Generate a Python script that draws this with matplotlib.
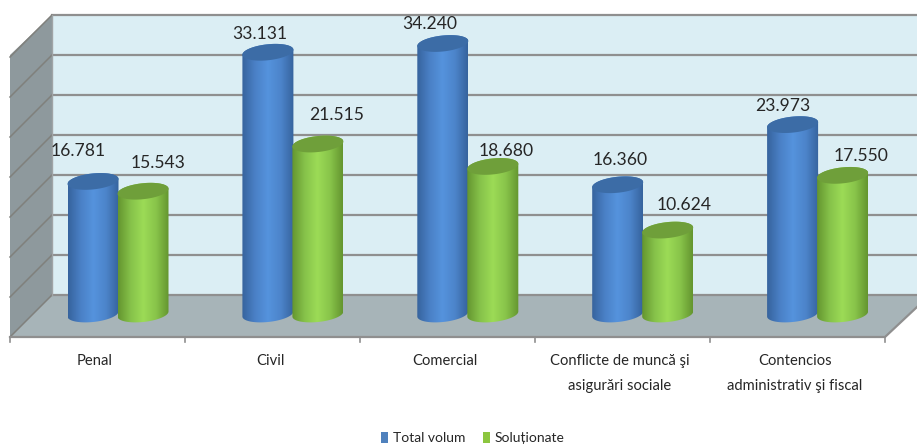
import numpy as np
import matplotlib
matplotlib.use("Agg")
import matplotlib.pyplot as plt
from matplotlib.colors import LinearSegmentedColormap
from matplotlib.patches import Polygon, Patch

plt.rcParams['font.family'] = ['Lato', 'DejaVu Sans']

categories = ["Penal", "Civil", "Comercial",
              "Conflicte de muncă şi\nasigurări sociale",
              "Contencios\nadministrativ şi fiscal"]
total_volum = [16781, 33131, 34240, 16360, 23973]
solutionate = [15543, 21515, 18680, 10624, 17550]
grid_values = [0, 5000, 10000, 15000, 20000, 25000, 30000, 35000]

# label offsets from the bar top, in pixels (the original is hand placed)
total_offsets = [(-15, 30), (-8, 18), (-13, 20), (2, 25), (-10, 19)]
solved_offsets = [(15, 28), (19, 29), (13, 15), (16, 25), (18, 19)]

W, H = 917, 448
CAT_PX = 174.9    # pixels per category
X0_PX = 118       # centre of the first group
Y0_PX = 314       # bar base
VAL_PX = 0.0079   # pixels per unit of value
BAR_W = 51 / CAT_PX
OFFSET = 50 / CAT_PX


def fx(px):
    return (px - X0_PX) / CAT_PX


def fy(py):
    return (Y0_PX - py) / VAL_PX


fig = plt.figure(figsize=(W / 100, H / 100), dpi=100)
ax = fig.add_axes([0, 0, 1, 1])
ax.axis('off')

# walls and floor
ax.add_patch(Polygon([(fx(52), fy(15)), (fx(930), fy(15)), (fx(930), fy(295)), (fx(52), fy(295))],
                     fc='#dbeef4', ec='none', zorder=1))
ax.add_patch(Polygon([(fx(10), fy(55)), (fx(52), fy(15)), (fx(52), fy(295)), (fx(10), fy(337))],
                     fc='#8e999d', ec='none', zorder=1))
ax.add_patch(Polygon([(fx(10), fy(337)), (fx(52), fy(295)), (fx(930), fy(295)), (fx(885), fy(337))],
                     fc='#a7b4b8', ec='none', zorder=1))

for v in grid_values:
    gy = 295 - v / 5000 * 40
    ax.plot([fx(52), fx(930)], [fy(gy), fy(gy)], color='#8f8f8f', lw=1.6, zorder=2)
    ax.plot([fx(10), fx(52)], [fy(gy + 42), fy(gy)], color='#80807c', lw=1.1, zorder=2)
ax.plot([fx(52), fx(52)], [fy(15), fy(295)], color='#a0a4a6', lw=1, zorder=2)
ax.plot([fx(10), fx(885), fx(917)], [fy(337), fy(337), fy(307)], color='#8f8f8f', lw=1.6, zorder=2)
for i in range(len(categories) + 1):
    tx = 10 + 175 * i
    ax.plot([fx(tx), fx(tx)], [fy(337), fy(342)], color='#8f8f8f', lw=1.2, zorder=2)

blue_side = LinearSegmentedColormap.from_list('b', ['#36639d', '#4a80c6', '#5593dd', '#4c84ca', '#36639d'])
green_side = LinearSegmentedColormap.from_list('g', ['#64952f', '#86c24a', '#9cdb56', '#88c44a', '#64952f'])
grad = np.linspace(0, 1, 256).reshape(1, -1)


def cylinder(x, value, cmap, top_color, z):
    w = BAR_W / 2
    h = 8 / VAL_PX
    tilt = 2.5 / VAL_PX
    t = np.linspace(0, 2 * np.pi, 120)
    ex = np.cos(t)
    ey = h * np.sin(t) + tilt * ex
    low = t >= np.pi
    order = np.argsort(ex[low])
    # outline: lower half of the base, then the upper half of the top
    bx = x + w * ex[low][order]
    by = ey[low][order]
    up = ~low
    order2 = np.argsort(-ex[up])
    tx = x + w * ex[up][order2]
    ty = value + ey[up][order2]
    body = Polygon(np.column_stack([np.r_[bx, tx], np.r_[by, ty]]), fc='none', ec='none', zorder=z)
    ax.add_patch(body)
    im = ax.imshow(grad, cmap=cmap, extent=(x - w, x + w, -h - tilt, value + h + tilt),
                   aspect='auto', zorder=z)
    im.set_clip_path(body)
    ax.add_patch(Polygon(np.column_stack([x + w * ex, value + ey]), fc=top_color, ec='none', zorder=z + 0.1))


for i in range(len(categories)):
    cylinder(i - OFFSET / 2, total_volum[i], blue_side, '#3c6ca6', 3 + i)
    cylinder(i + OFFSET / 2, solutionate[i], green_side, '#6f9f3a', 3.5 + i)

    for x, v, off in [(i - OFFSET / 2, total_volum[i], total_offsets[i]),
                      (i + OFFSET / 2, solutionate[i], solved_offsets[i])]:
        ax.annotate(f"{v:,}".replace(',', '.'), (x, v), xytext=off, textcoords='offset pixels',
                    ha='center', va='center', fontsize=12.6, color='#262626', zorder=10)

    lines = categories[i].split('\n')
    for n, line in enumerate(lines):
        ax.text(fx(95 + 175 * i), fy(361 + 25 * n), line, ha='center', va='center',
                fontsize=10.6, color='#262626')

ax.set_xlim(fx(0), fx(W))
ax.set_ylim(fy(H), fy(0))

handles = [Patch(fc='#4f81bd', label='Total volum'), Patch(fc='#8cc63f', label='Soluționate')]
fig.legend(handles=handles, loc='center', bbox_to_anchor=(473 / W, 1 - 438 / H), ncol=2, frameon=False,
           fontsize=10, handlelength=0.5, handleheight=0.9, handletextpad=0.36, columnspacing=1.22,
           labelcolor='#262626')

fig.savefig('out.png', dpi=100)
